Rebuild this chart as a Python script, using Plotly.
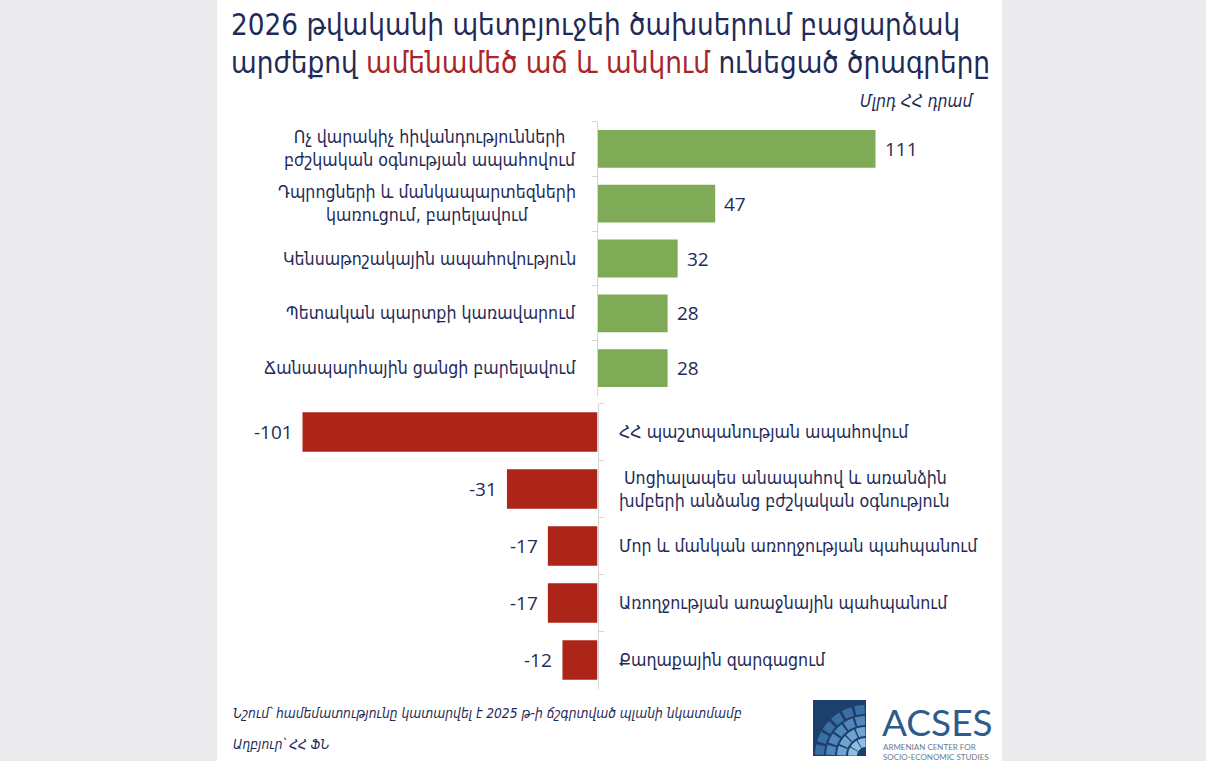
import math
import plotly.graph_objects as go

W, H = 1206, 761

# ---------------- data ----------------
pos_labels = [
    "Ոչ վարակիչ հիվանդությունների<br>բժշկական օգնության ապահովում",
    "Դպրոցների և մանկապարտեզների<br>կառուցում, բարելավում",
    "Կենսաթոշակային ապահովություն",
    "Պետական պարտքի կառավարում",
    "Ճանապարհային ցանցի բարելավում",
]
pos_values = [111, 47, 32, 28, 28]

neg_labels = [
    "ՀՀ պաշտպանության ապահովում",
    " Սոցիալապես անապահով և առանձին<br>խմբերի անձանց բժշկական օգնություն",
    "Մոր և մանկան առողջության պահպանում",
    "Առողջության առաջնային պահպանում",
    "Քաղաքային զարգացում",
]
neg_values = [-101, -31, -17, -17, -12]

title_line1 = "2026 թվականի պետբյուջեի ծախսերում բացարձակ"
title_line2_a = "արժեքով "
title_line2_b = "ամենամեծ աճ և անկում"
title_line2_c = " ունեցած ծրագրերը"
unit_text = "Մլրդ ՀՀ դրամ"
note_text = "Նշում՝ համեմատությունը կատարվել է 2025 թ-ի ճշգրտված պլանի նկատմամբ"
source_text = "Աղբյուր՝ ՀՀ ՖՆ"

# ---------------- style ----------------
NAVY = "#1f2b57"
RED_T = "#a8262a"
GREEN = "#7fab56"
RED = "#ad2419"
AXIS = "#d6d6d6"
BG = "#ebebed"
FONT = "DejaVu Sans, Noto Sans, sans-serif"
CFONT = "DejaVu Sans Condensed, DejaVu Sans, sans-serif"
NUMFONT = "Open Sans, Noto Sans, sans-serif"


def px(x):
    return x / W


def py(y):
    return 1 - y / H


Z = 597.5            # pixel position of zero line
S1 = 278 / 111       # px per unit, upper chart
S2 = 295 / 101       # px per unit, lower chart

fig = go.Figure()
fig.add_trace(go.Bar(y=pos_labels, x=pos_values, orientation="h",
                     marker=dict(color=GREEN, line=dict(width=0)),
                     xaxis="x", yaxis="y", hoverinfo="skip"))
fig.add_trace(go.Bar(y=neg_labels, x=neg_values, orientation="h",
                     marker=dict(color=RED, line=dict(width=0)),
                     xaxis="x2", yaxis="y2", hoverinfo="skip"))

common_y = dict(type="category", autorange="reversed", showline=True,
                linecolor=AXIS, linewidth=1, ticks="outside", tickson="boundaries",
                ticklen=5, tickcolor=AXIS, showticklabels=False, showgrid=False,
                zeroline=False, fixedrange=True)
common_x = dict(showgrid=False, zeroline=False, showticklabels=False,
                showline=False, ticks="", fixedrange=True)

fig.update_layout(
    width=W, height=H,
    margin=dict(l=0, r=0, t=0, b=0),
    paper_bgcolor=BG, plot_bgcolor="rgba(0,0,0,0)",
    showlegend=False, bargap=0.31,
    xaxis=dict(domain=[px(Z), 1], range=[0, (W - Z) / S1], anchor="y", **common_x),
    yaxis=dict(domain=[py(395.5), py(121.5)], anchor="x", **common_y),
    xaxis2=dict(domain=[0, px(Z)], range=[-Z / S2, 0], anchor="y2", **common_x),
    yaxis2=dict(domain=[py(688.5), py(403.5)], anchor="x2", side="right", **common_y),
    font=dict(family=FONT, color=NAVY),
)

shapes = [dict(type="rect", xref="paper", yref="paper", x0=px(217), x1=px(1002),
               y0=0, y1=1, fillcolor="white", line=dict(width=0), layer="below")]

ann = []
# category labels
for lab in pos_labels:
    ann.append(dict(text=lab, x=px(578), xref="paper", y=lab, yref="y",
                    xanchor="right", yanchor="middle", align="center", showarrow=False,
                    font=dict(size=17.6, color=NAVY, family=CFONT)))
for lab in neg_labels:
    ann.append(dict(text=lab, x=px(617), xref="paper", y=lab, yref="y2",
                    xanchor="left", yanchor="middle", align="left", showarrow=False,
                    font=dict(size=17.6, color=NAVY, family=CFONT)))
# value labels
for lab, v in zip(pos_labels, pos_values):
    ann.append(dict(text=str(v), x=v, xref="x", y=lab, yref="y", xanchor="left",
                    yanchor="middle", xshift=7, showarrow=False,
                    font=dict(size=19, color=NAVY, family=NUMFONT)))
for lab, v in zip(neg_labels, neg_values):
    ann.append(dict(text=str(v), x=v, xref="x2", y=lab, yref="y2", xanchor="right",
                    yanchor="middle", xshift=-8, showarrow=False,
                    font=dict(size=19, color=NAVY, family=NUMFONT)))
# title
ann.append(dict(text=title_line1, x=px(229), y=py(25), xref="paper", yref="paper",
                xanchor="left", yanchor="middle", showarrow=False,
                font=dict(size=29.3, color=NAVY, family=CFONT)))
ann.append(dict(text=title_line2_a + "<span style='color:%s'>%s</span>" % (RED_T, title_line2_b)
                + title_line2_c,
                x=px(229), y=py(63), xref="paper", yref="paper",
                xanchor="left", yanchor="middle", showarrow=False,
                font=dict(size=29.3, color=NAVY, family=CFONT)))
ann.append(dict(text="<i>%s</i>" % unit_text, x=px(976), y=py(101), xref="paper", yref="paper",
                xanchor="right", yanchor="middle", showarrow=False,
                font=dict(size=17, color=NAVY, family=CFONT)))
ann.append(dict(text="<i>%s</i>" % note_text, x=px(231), y=py(713), xref="paper", yref="paper",
                xanchor="left", yanchor="middle", showarrow=False,
                font=dict(size=13.7, color=NAVY, family=CFONT)))
ann.append(dict(text="<i>%s</i>" % source_text, x=px(231), y=py(744), xref="paper", yref="paper",
                xanchor="left", yanchor="middle", showarrow=False,
                font=dict(size=13.7, color=NAVY, family=CFONT)))

# ---------------- logo ----------------
LX0, LY0, LX1, LY1 = 813, 700, 866, 756
shapes.append(dict(type="rect", xref="paper", yref="paper", x0=px(LX0), x1=px(LX1),
                   y0=py(LY1), y1=py(LY0), fillcolor="#1d3f6c", line=dict(width=0)))
cx, cy = LX1, LY1
bands = [(9, 18, 3, "#8fbde3"), (20, 29, 4, "#6fa3d2"), (31, 40, 5, "#4f87bd"),
         (42, 51, 6, "#3a6fa6")]
for r0, r1, n, col in bands:
    gap = 0.06
    for k in range(n):
        a0 = math.pi / 2 * k / n + gap / 2
        a1 = math.pi / 2 * (k + 1) / n - gap / 2
        pts = []
        steps = 8
        for i in range(steps + 1):
            a = a0 + (a1 - a0) * i / steps
            pts.append((cx - r1 * math.cos(a), cy - r1 * math.sin(a)))
        for i in range(steps, -1, -1):
            a = a0 + (a1 - a0) * i / steps
            pts.append((cx - r0 * math.cos(a), cy - r0 * math.sin(a)))
        path = "M " + " L ".join("%.5f %.5f" % (px(x), py(y)) for x, y in pts) + " Z"
        shapes.append(dict(type="path", xref="paper", yref="paper", path=path,
                           fillcolor=col, line=dict(width=0)))
ann.append(dict(text="ACSES", x=px(880), y=py(721), xref="paper", yref="paper",
                xanchor="left", yanchor="middle", showarrow=False,
                font=dict(size=37, color="#2f5b8c", family="Lato, Open Sans, sans-serif")))
ann.append(dict(text="ARMENIAN CENTER FOR<br>SOCIO-ECONOMIC STUDIES", x=px(881), y=py(752),
                xref="paper", yref="paper", xanchor="left", yanchor="middle", align="left",
                showarrow=False,
                font=dict(size=8, color="#6b7b8c", family="Lato, Open Sans, sans-serif")))

fig.update_layout(shapes=shapes, annotations=ann)

fig.write_html("out.html", config={"displayModeBar": False},
               post_script="document.body.style.margin='0';document.body.style.overflow='hidden';")
